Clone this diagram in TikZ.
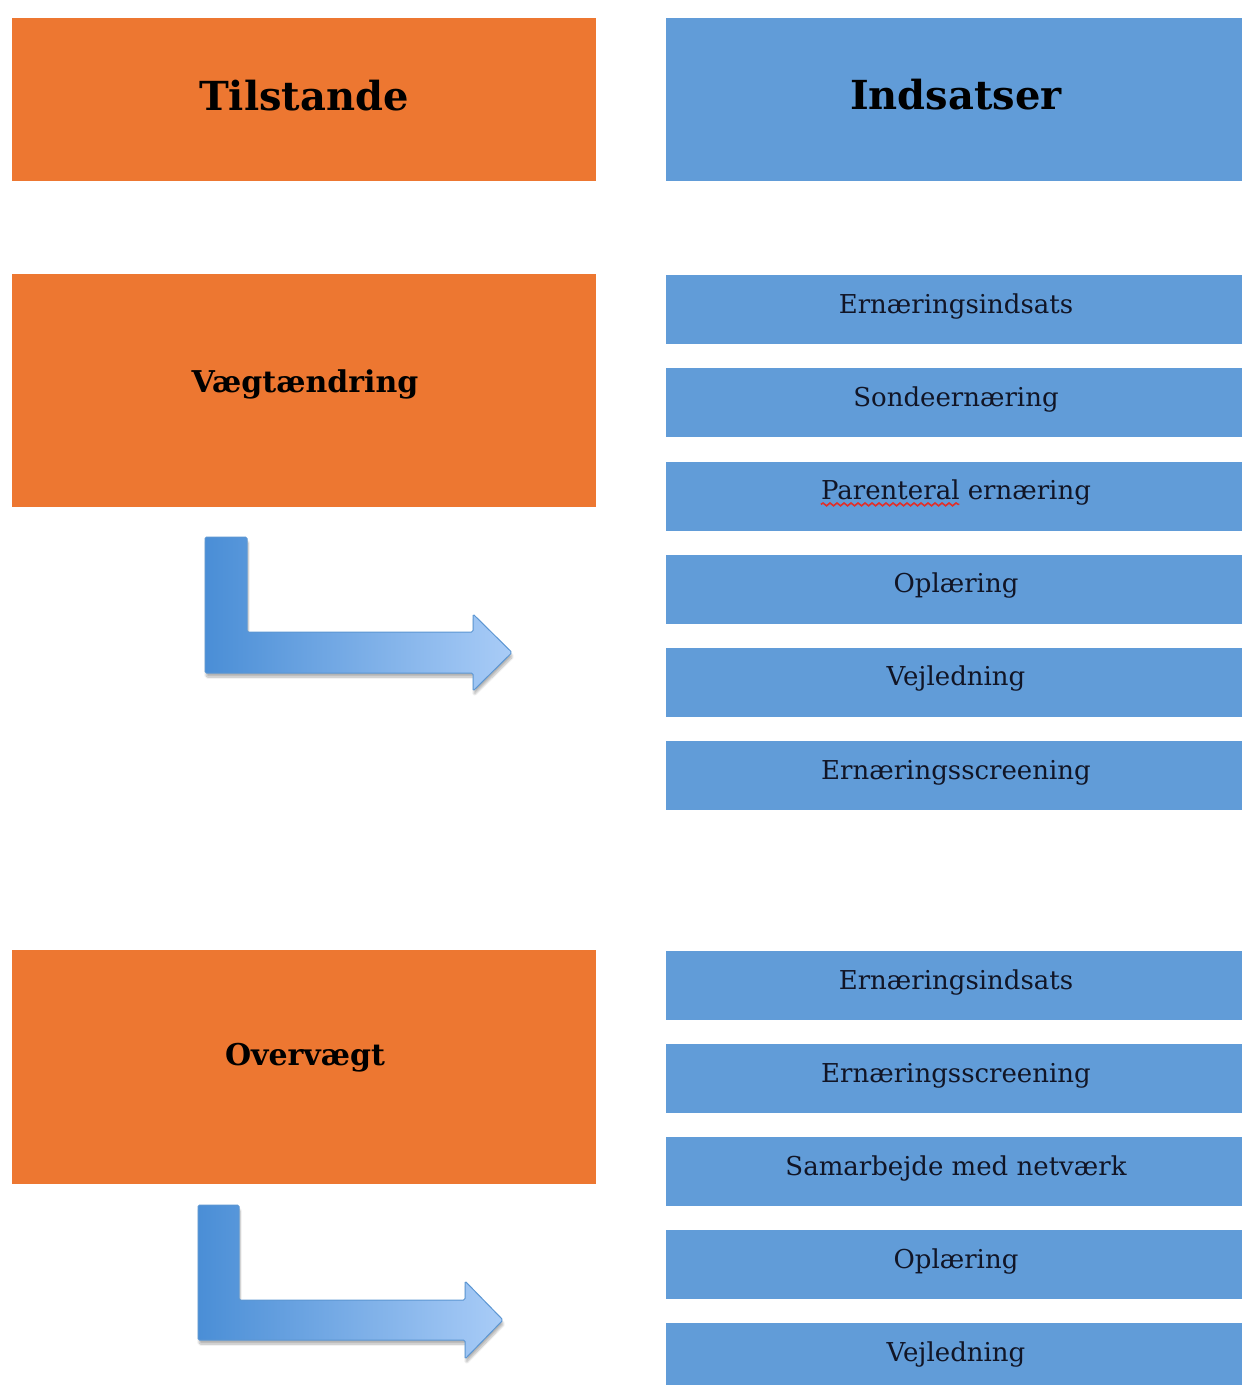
\documentclass[tikz,border=0pt]{standalone}
\usepackage{fontspec}
\setmainfont{DejaVu Serif}
\usetikzlibrary{shadows.blur,decorations.pathmorphing}
\definecolor{stateorange}{HTML}{ED7731}
\definecolor{actionblue}{HTML}{619CD8}
\definecolor{arrowdark}{HTML}{4A8ED6}
\definecolor{arrowlight}{HTML}{A9CCF7}
\definecolor{arrowedge}{HTML}{5C96D2}
\definecolor{labelink}{HTML}{111526}
\definecolor{spellred}{HTML}{E0302A}
\newcommand{\barfont}{\fontsize{26}{31}\selectfont}
\newlength{\wavelen}
\tikzset{
  statebox/.style={rectangle, fill=stateorange, draw=none, inner sep=0pt,
    minimum width=584pt, anchor=north west},
  actionbox/.style={rectangle, fill=actionblue, draw=none, inner sep=0pt,
    minimum width=580pt, anchor=north west},
  headtext/.style={anchor=base, inner sep=0pt, font=\fontsize{40}{48}\selectfont\bfseries},
  statetext/.style={anchor=base, inner sep=0pt, font=\fontsize{30}{36}\selectfont\bfseries},
  bartext/.style={anchor=base, inner sep=0pt, text=labelink, font=\barfont},
  bentarrow/.style={draw=arrowedge, line width=1pt, left color=arrowdark, right color=arrowlight,
    blur shadow={shadow xshift=1pt, shadow yshift=-4pt, shadow opacity=30, shadow blur steps=8}},
}
\begin{document}
\settowidth{\wavelen}{\barfont Parenteral}
\begin{tikzpicture}[x=1pt, y=-1pt]
  \useasboundingbox (0,0) rectangle (1242,1385);

  % column headers
  \node[statebox, minimum height=163pt] (tilstande) at (12,18) {};
  \node[headtext] (tilstandetxt) at (304,110) {Tilstande};
  \node[actionbox, minimum height=163pt] (indsatser) at (666,18) {};
  \node[headtext] (indsatsertxt) at (956,109) {Indsatser};

  % condition: weight change
  \node[statebox, minimum height=233pt] (vaegt) at (12,274) {};
  \node[statetext] (vaegttxt) at (305,392) {Vægtændring};

  % interventions for weight change
  \foreach \i/\t in {0/Ernæringsindsats, 1/Sondeernæring, 2/{Parenteral ernæring},
                     3/Oplæring, 4/Vejledning, 5/Ernæringsscreening}{
    \node[actionbox, minimum height=69pt] (a\i) at (666,{275+93.2*\i}) {};
    \node[bartext] (a\i txt) at (956,{313+93.2*\i}) {\t};
  }
  % spell-check mark under the first word
  \draw[spellred, line width=1.6pt, decorate,
        decoration={snake, amplitude=1.4pt, segment length=7pt}]
    (a2txt.base west) ++(0,5) -- ++(\wavelen,0pt);

  % bent arrow towards the interventions
  \path[bentarrow, rounded corners=1.5pt]
    (205,537) -- (247,537) -- (247,632) -- (473,632) -- (473,614)
    -- (512,652.5) -- (473,691) -- (473,673) -- (205,673) -- cycle;

  % condition: overweight
  \node[statebox, minimum height=234pt] (over) at (12,950) {};
  \node[statetext] (overtxt) at (305,1065) {Overvægt};

  % interventions for overweight
  \foreach \i/\t in {0/Ernæringsindsats, 1/Ernæringsscreening, 2/{Samarbejde med netværk},
                     3/Oplæring, 4/Vejledning}{
    \node[actionbox, minimum height=69pt] (b\i) at (666,{951+93*\i}) {};
    \node[bartext] (b\i txt) at (956,{989+93*\i}) {\t};
  }

  \path[bentarrow, rounded corners=1.5pt]
    (198,1205) -- (239,1205) -- (239,1300) -- (465,1300) -- (465,1281)
    -- (503,1320) -- (465,1359) -- (465,1340) -- (198,1340) -- cycle;
\end{tikzpicture}
\end{document}
